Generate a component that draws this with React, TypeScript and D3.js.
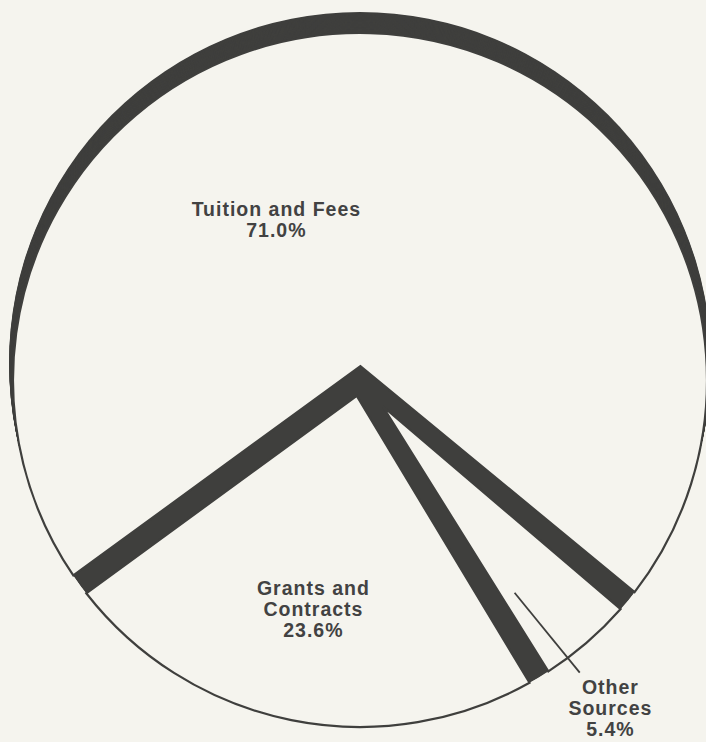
import React from 'react';
import * as d3 from 'd3';

// ---- data ----
const categories = ['Tuition and Fees', 'Grants and Contracts', 'Other Sources'];
const shares = [71.0, 23.6, 5.4];
const nameLines = [['Tuition and Fees'], ['Grants and', 'Contracts'], ['Other', 'Sources']];

// ---- layout / style ----
const W = 706;
const H = 742;
const CX = 360;
const CY = 380;
const R = 347;
const HALF_GAP = 11;
const APEX_CAP = 35;
const DEPTH_Y = 17;
const DEPTH_R = 4;
const STEPS = 24;
const START_DEG = 129.5;
const BG = '#f5f4ee';
const DARK = '#3f3f3d';
const TEXT = '#424242';
const FONT = '"Liberation Sans", Arial, Helvetica, sans-serif';
const FONT_SIZE = 19.5;
const LINE_H = 21;
const LETTER_SP = 1.0;
const labelPolar = [
  { deg: -27.7, r: 180.9 },
  { deg: 191.6, r: 234.1 },
  { deg: 142.7, r: 412.4 },
];
const leaderPolar = [null, null, { deg0: 144.0, r0: 263, deg1: 143.1, r1: 366 }];

const rad = (d: number) => (d * Math.PI) / 180;
const pt = (cx: number, cy: number, r: number, a: number): [number, number] => [
  cx + r * Math.sin(a),
  cy - r * Math.cos(a),
];

function facePath(lo: number, hi: number, cx: number, cy: number, r: number) {
  const inset = Math.asin(HALF_GAP / r);
  const b0 = lo + inset;
  const b1 = hi - inset;
  const mid = (lo + hi) / 2;
  const half = (hi - lo) / 2;
  const dist = Math.min(HALF_GAP / Math.sin(half), APEX_CAP);
  const apex = pt(cx, cy, dist, mid);
  const c0 = pt(cx, cy, r, b0);
  const p = d3.path();
  p.moveTo(apex[0], apex[1]);
  p.lineTo(c0[0], c0[1]);
  p.arc(cx, cy, r, b0 - Math.PI / 2, b1 - Math.PI / 2, false);
  p.closePath();
  return p.toString();
}

export default function App() {
  const pie = d3
    .pie<number>()
    .sort(null)
    .value((d) => d)
    .startAngle(rad(START_DEG))
    .endAngle(rad(START_DEG) - Math.PI * 2);
  const arcs = pie(shares).map((a) => ({
    lo: Math.min(a.startAngle, a.endAngle),
    hi: Math.max(a.startAngle, a.endAngle),
    i: a.index,
  }));

  const depth = d3.range(STEPS, -1, -1).map((s) => ({
    dy: (DEPTH_Y * s) / STEPS,
    dr: (DEPTH_R * s) / STEPS,
  }));

  return (
    <svg
      width={W}
      height={H}
      style={{ position: 'absolute', left: 0, top: 0 }}
      xmlns="http://www.w3.org/2000/svg"
    >
      <rect x={0} y={0} width={W} height={H} fill={BG} />
      <g>
        {depth.map((d, k) => (
          <circle key={k} cx={CX} cy={CY - d.dy} r={R + d.dr} fill={DARK} />
        ))}
      </g>
      <g>
        {arcs.map((a) => (
          <path
            key={categories[a.i]}
            d={facePath(a.lo, a.hi, CX, CY, R)}
            fill={BG}
            stroke={DARK}
            strokeWidth={2.2}
            strokeLinejoin="miter"
          />
        ))}
      </g>
      <g>
        {leaderPolar.map((l, i) => {
          if (!l) return null;
          const p0 = pt(CX, CY, l.r0, rad(l.deg0));
          const p1 = pt(CX, CY, l.r1, rad(l.deg1));
          return (
            <line
              key={i}
              x1={p0[0]}
              y1={p0[1]}
              x2={p1[0]}
              y2={p1[1]}
              stroke={DARK}
              strokeWidth={1.8}
            />
          );
        })}
      </g>
      <g
        fontFamily={FONT}
        fontWeight="bold"
        fontSize={FONT_SIZE}
        fill={TEXT}
        textAnchor="middle"
        letterSpacing={LETTER_SP}
      >
        {shares.map((v, i) => {
          const lines = [...nameLines[i], `${v.toFixed(1)}%`];
          const [x, y] = pt(CX, CY, labelPolar[i].r, rad(labelPolar[i].deg));
          const n = lines.length;
          return (
            <text key={categories[i]}>
              {lines.map((t, j) => (
                <tspan
                  key={j}
                  x={x + LETTER_SP / 2}
                  y={y + (j - (n - 1) / 2) * LINE_H + 7}
                >
                  {t}
                </tspan>
              ))}
            </text>
          );
        })}
      </g>
    </svg>
  );
}
